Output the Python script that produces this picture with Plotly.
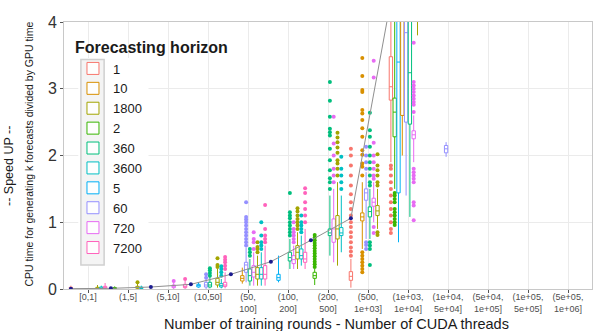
import plotly.graph_objects as go

categories = ["[0,1]", "(1,5]", "(5,10]", "(10,50]", "(50,<br>100]", "(100,<br>200]",
              "(200,<br>500]", "(500,<br>1e+03]", "(1e+03,<br>1e+04]", "(1e+04,<br>5e+04]",
              "(5e+04,<br>1e+05]", "(1e+05,<br>5e+05]", "(5e+05,<br>1e+06]"]

# dodge order (numeric) and legend order (as in the reference legend)
dodge_order = ["1", "2", "5", "10", "60", "360", "720", "1800", "3600", "7200"]
legend_order = ["1", "10", "1800", "2", "360", "3600", "5", "60", "720", "7200"]
colors = {"1": "#F8766D", "10": "#D89000", "1800": "#A3A500", "2": "#39B600",
          "360": "#00BF7D", "3600": "#00BFC4", "5": "#00B0F6", "60": "#9590FF",
          "720": "#E76BF3", "7200": "#FF62BC"}

# rows: [category index, lower whisker, q1, median, q3, upper whisker]
box_h1 = [[0, 0.0, 0.008, 0.015, 0.025, 0.05],
          [7, 0.02, 0.13, 0.19, 0.26, 0.45],
          [8, 1.9, 2.83, 3.03, 3.48, 4.6]]
out_h1 = [(7, [0.5, 0.56, 0.62, 0.7, 0.78, 0.85, 0.93, 1.0, 1.1, 1.2, 1.3, 1.42, 1.55, 1.7, 1.85, 2.0, 2.1]),
          (8, [0.84, 0.9, 1.0, 1.1, 1.2, 1.3, 1.4, 1.5, 1.6, 1.7, 1.8, 1.85])]

box_h2 = [[1, 0.0, 0.005, 0.012, 0.022, 0.04],
          [6, 0.06, 0.16, 0.2, 0.25, 0.3],
          [8, 1.5, 2.28, 2.65, 2.86, 4.5]]
out_h2 = [(6, [0.33, 0.37, 0.41, 0.45, 0.49, 0.53, 0.57, 0.61, 0.65, 0.69, 0.73, 0.77, 0.81]),
          (8, [0.96, 1.0, 1.05, 1.1, 1.15, 1.2, 1.3, 1.35, 1.4, 1.44])]

box_h5 = [[3, 0.02, 0.03, 0.05, 0.07, 0.1],
          [5, 0.1, 0.13, 0.17, 0.22, 0.5],
          [8, 0.7, 1.44, 3.4, 4.8, 6.0]]
out_h5 = []

box_h10 = [[4, 0.08, 0.12, 0.16, 0.2, 0.32],
           [7, 0.6, 1.02, 1.08, 1.14, 1.6],
           [8, 2.0, 2.6, 4.3, 5.5, 7.0]]
out_h10 = [(7, [0.25, 0.3, 0.35, 0.4, 0.45, 0.5, 0.55, 1.7, 1.83, 1.88, 2.01, 2.08, 2.28, 2.41,
                2.53, 2.63, 2.68, 2.95, 2.98, 3.19, 3.46])]

box_h60 = [[3, 0.0, 0.03, 0.06, 0.1, 0.15],
           [4, 0.1, 0.25, 0.36, 0.4, 0.62],
           [7, 0.75, 1.33, 1.44, 1.5, 1.75],
           [8, 1.4, 2.5, 3.84, 5.5, 8.0],
           [9, 1.98, 2.04, 2.1, 2.15, 2.2]]
out_h60 = [(3, [0.17, 0.22]),
           (4, [0.65, 0.7, 0.75, 0.8, 0.85, 0.9, 0.95, 1.0, 1.04, 1.08, 1.3]),
           (7, [0.6, 0.66, 0.7, 1.8, 1.9, 2.0, 2.13])]

box_h360 = [[3, 0.01, 0.03, 0.06, 0.1, 0.18],
            [4, 0.05, 0.12, 0.2, 0.3, 0.45],
            [5, 0.3, 0.42, 0.47, 0.55, 0.75],
            [6, 0.5, 0.8, 0.84, 0.9, 1.4],
            [7, 0.75, 1.08, 1.16, 1.23, 1.5],
            [8, 1.08, 2.47, 3.24, 4.5, 6.0]]
out_h360 = [(3, [0.2, 0.24, 0.28, 0.31]),
            (4, [0.5, 0.55, 0.6]),
            (5, [0.8, 0.85, 0.9, 0.95, 1.0, 1.06, 1.1, 1.15, 1.44]),
            (6, [1.5, 1.6, 1.66, 1.78, 1.93, 2.1, 2.3, 2.35, 2.4, 2.58, 2.82, 3.1]),
            (7, [0.36, 0.6, 0.65, 0.7, 1.55, 1.6, 1.7, 1.8, 1.9, 2.0, 2.13, 2.28, 2.38, 2.64])]

box_h720 = [[2, 0.0, 0.02, 0.04, 0.06, 0.1],
            [4, 0.05, 0.18, 0.25, 0.35, 0.55],
            [5, 0.3, 0.38, 0.44, 0.5, 0.65],
            [6, 0.4, 0.7, 0.9, 1.05, 1.5],
            [7, 1.0, 1.24, 1.3, 1.36, 1.6],
            [8, 1.9, 2.25, 2.31, 2.37, 2.6]]
out_h720 = [(2, [0.12]),
            (4, [0.6, 0.7, 0.75, 0.85]),
            (5, [0.7, 0.75, 0.8, 0.85, 0.9, 1.0]),
            (6, [1.6, 1.7, 1.8, 2.0, 2.18, 2.58]),
            (7, [0.84, 0.93, 1.65, 1.7, 1.8, 1.9, 2.0, 2.19, 3.17, 3.42]),
            (8, [1.03, 1.25, 1.3, 1.6, 1.65, 1.7, 1.75, 1.8, 2.65, 2.76, 2.8, 2.85, 2.9, 2.95,
                 3.0, 3.05, 3.1, 3.69])]

box_h1800 = [[0, 0.0, 0.005, 0.012, 0.025, 0.06],
             [1, 0.0, 0.01, 0.02, 0.04, 0.08],
             [3, 0.02, 0.06, 0.1, 0.16, 0.3],
             [4, 0.05, 0.15, 0.22, 0.32, 0.5],
             [5, 0.3, 0.45, 0.55, 0.65, 0.85],
             [6, 0.35, 0.75, 0.9, 1.1, 1.6],
             [7, 0.9, 1.1, 1.17, 1.25, 1.5],
             [8, 3.8, 4.3, 4.6, 5.0, 6.0]]
out_h1800 = [(1, [0.1]),
             (3, [0.33, 0.36, 0.46]),
             (4, [0.55, 0.6, 0.63, 0.7]),
             (5, [0.9, 0.95, 1.0, 1.05, 1.1, 1.16, 1.21]),
             (6, [1.7, 1.8, 1.88, 1.93, 2.04, 2.12, 2.2, 2.27, 2.34]),
             (7, [0.81, 0.85, 1.55, 1.6, 1.7, 1.78, 1.85, 2.02])]

box_h3600 = [[0, 0.0, 0.008, 0.015, 0.03, 0.05],
             [1, 0.0, 0.008, 0.015, 0.028, 0.05],
             [3, 0.01, 0.03, 0.05, 0.08, 0.15],
             [4, 0.05, 0.15, 0.22, 0.32, 0.55],
             [5, 0.35, 0.45, 0.5, 0.6, 0.8],
             [6, 0.55, 0.8, 0.84, 0.92, 1.4]]
out_h3600 = [(3, [0.2, 0.25, 0.3, 0.34]),
             (4, [0.6, 0.65, 0.7, 0.8, 1.0]),
             (5, [0.85, 0.9, 0.95, 1.0, 1.1]),
             (6, [1.5, 1.6, 1.7, 1.8, 1.98])]

box_h7200 = [[0, 0.0, 0.01, 0.02, 0.04, 0.09],
             [2, 0.0, 0.02, 0.04, 0.07, 0.12],
             [3, 0.01, 0.04, 0.06, 0.1, 0.25],
             [4, 0.05, 0.15, 0.22, 0.35, 0.65],
             [5, 0.3, 0.4, 0.45, 0.55, 0.9]]
out_h7200 = [(2, [0.15]),
             (3, [0.3, 0.35, 0.4, 0.44, 0.48]),
             (4, [0.7, 0.75, 0.8, 0.9, 1.26]),
             (5, [1.0, 1.1, 1.2, 1.3, 1.44, 1.51])]

# mean speed-up per category (dark points joined by grey line)
mean_cat = [0, 1, 2, 3, 4, 5, 6, 7, 8]
mean_val = [0.005, 0.01, 0.03, 0.07, 0.22, 0.41, 0.73, 1.06, 4.33]

boxes = {"1": box_h1, "2": box_h2, "5": box_h5, "10": box_h10, "60": box_h60,
         "360": box_h360, "720": box_h720, "1800": box_h1800, "3600": box_h3600,
         "7200": box_h7200}
outs = {"1": out_h1, "2": out_h2, "5": out_h5, "10": out_h10, "60": out_h60,
        "360": out_h360, "720": out_h720, "1800": out_h1800, "3600": out_h3600,
        "7200": out_h7200}

fig = go.Figure()
for h in dodge_order:
    rows = boxes[h]
    fig.add_trace(go.Box(
        name=h, x=[categories[r[0]] for r in rows],
        lowerfence=[r[1] for r in rows], q1=[r[2] for r in rows],
        median=[r[3] for r in rows], q3=[r[4] for r in rows],
        upperfence=[r[5] for r in rows],
        offsetgroup=h, boxpoints=False, whiskerwidth=0,
        line=dict(color=colors[h], width=1), fillcolor="rgba(255,255,255,0.85)",
        legendrank=legend_order.index(h) + 1, hoverinfo="skip"))

for h in dodge_order:
    xs, ys = [], []
    for ci, vals in outs[h]:
        for v in vals:
            xs.append(categories[ci])
            ys.append(v)
    fig.add_trace(go.Scatter(
        x=xs, y=ys, mode="markers", orientation="v", offsetgroup=h,
        marker=dict(color=colors[h], size=4), showlegend=False, hoverinfo="skip"))

fig.add_trace(go.Scatter(
    x=[categories[i] for i in mean_cat], y=mean_val, mode="lines+markers",
    line=dict(color="#8F8F8F", width=1), marker=dict(color="#1B1B8F", size=4),
    showlegend=False, hoverinfo="skip"))

fig.update_layout(
    width=599, height=331, margin=dict(l=64, r=7, t=22, b=42),
    paper_bgcolor="white", plot_bgcolor="white",
    boxmode="group", scattermode="group", boxgap=0.05, boxgroupgap=0.12, scattergap=0.05,
    font=dict(family="Liberation Sans, Arial, sans-serif", color="#1A1A1A"),
    legend=dict(x=0.017, y=0.96, xanchor="left", yanchor="top",
                bgcolor="rgba(255,255,255,0)", font=dict(size=13, color="#1A1A1A"),
                title=dict(text="<b>Forecasting horizon</b>", font=dict(size=16)),
                traceorder="normal"),
    shapes=[
        dict(type="rect", xref="paper", yref="paper", x0=0.027, x1=0.16, y0=0.085, y1=0.865,
             fillcolor="white", line=dict(width=0), layer="above"),
        dict(type="rect", xref="paper", yref="paper", x0=0.032, x1=0.076, y0=0.09, y1=0.86,
             fillcolor="#F4F4F4", line=dict(color="#D0D0D0", width=1.5), layer="above"),
    ],
    xaxis=dict(type="category", categoryorder="array", categoryarray=categories,
               range=[-0.6, 12.6], showgrid=True, gridcolor="#EBEBEB", gridwidth=1,
               showline=True, mirror=True, linecolor="#C8C8C8", linewidth=1,
               ticks="outside", ticklen=3, tickcolor="#555555", ticklabelstandoff=-4,
               tickfont=dict(size=9, color="#4D4D4D"), zeroline=False),
    yaxis=dict(range=[0, 4], tickvals=[0, 1, 2, 3, 4], showgrid=True, gridcolor="#EBEBEB",
               showline=True, mirror=True, linecolor="#C8C8C8", linewidth=1,
               ticks="outside", ticklen=3, tickcolor="#555555",
               tickfont=dict(size=16, color="#333333"), zeroline=False),
    annotations=[
        dict(text="-- Speed UP --", xref="paper", yref="paper", x=-0.104, y=0.461,
             xanchor="center", yanchor="middle", textangle=-90, showarrow=False,
             font=dict(size=12.5, color="#1A1A1A")),
        dict(text="CPU time for generating k forecasts divided by GPU time", xref="paper",
             yref="paper", x=-0.066, y=0.504, xanchor="center", yanchor="middle",
             textangle=-90, showarrow=False, font=dict(size=10.5, color="#1A1A1A")),
        dict(text="Number of training rounds - Number of CUDA threads", xref="paper",
             yref="paper", x=0.517, y=-0.1295, xanchor="center", yanchor="middle",
             showarrow=False, font=dict(size=14.5, color="#1A1A1A")),
    ],
)

fig.write_html("out.html")
